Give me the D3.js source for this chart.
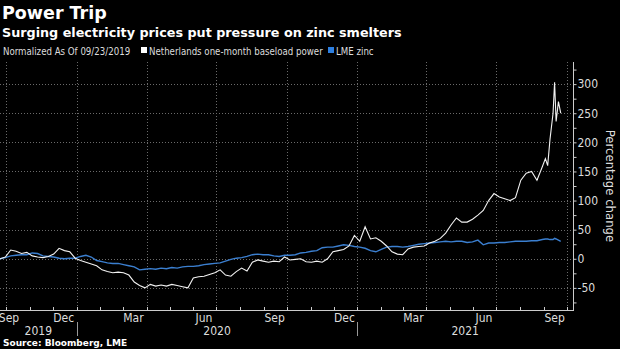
<!DOCTYPE html>
<html>
<head>
<meta charset="utf-8">
<script src="https://cdn.jsdelivr.net/npm/d3@7"></script>
<style>
  html, body { margin: 0; padding: 0; background: #000; }
  svg { display: block; }
  .cond { font-family: "DejaVu Sans Condensed", "DejaVu Sans", sans-serif; font-stretch: condensed; }
</style>
</head>
<body>
<svg id="chart" width="620" height="349"></svg>
<script>
// weekly readings, normalized to 0 on 2019-09-23
var dates = ["2019-09-23","2019-09-30","2019-10-07","2019-10-14","2019-10-21","2019-10-28","2019-11-04","2019-11-11","2019-11-18","2019-11-25",
  "2019-12-02","2019-12-09","2019-12-16","2019-12-23","2019-12-30","2020-01-06","2020-01-13","2020-01-20","2020-01-27","2020-02-03",
  "2020-02-10","2020-02-17","2020-02-24","2020-03-02","2020-03-09","2020-03-16","2020-03-23","2020-03-30","2020-04-06","2020-04-13",
  "2020-04-20","2020-04-27","2020-05-04","2020-05-11","2020-05-18","2020-05-25","2020-06-01","2020-06-08","2020-06-15","2020-06-22",
  "2020-06-29","2020-07-06","2020-07-13","2020-07-20","2020-07-27","2020-08-03","2020-08-10","2020-08-17","2020-08-24","2020-08-31",
  "2020-09-07","2020-09-14","2020-09-21","2020-09-28","2020-10-05","2020-10-12","2020-10-19","2020-10-26","2020-11-02","2020-11-09",
  "2020-11-16","2020-11-23","2020-11-30","2020-12-07","2020-12-14","2020-12-21","2020-12-28","2021-01-04","2021-01-11","2021-01-18",
  "2021-01-25","2021-02-01","2021-02-08","2021-02-15","2021-02-22","2021-03-01","2021-03-08","2021-03-15","2021-03-22","2021-03-29",
  "2021-04-05","2021-04-12","2021-04-19","2021-04-26","2021-05-03","2021-05-10","2021-05-17","2021-05-24","2021-05-31","2021-06-07",
  "2021-06-14","2021-06-21","2021-06-28","2021-07-05","2021-07-12","2021-07-19","2021-07-26","2021-08-02","2021-08-09","2021-08-16",
  "2021-08-23","2021-08-30","2021-09-03","2021-09-06","2021-09-09","2021-09-13","2021-09-15","2021-09-17","2021-09-20","2021-09-23"];

var power = [0, 3, 15, 13, 9, 11, 5, 3, 2, 4,
  8, 18, 14, 12, 1, -3, -6, -9, -12, -19,
  -22, -24, -23, -24, -28, -40, -46, -50, -44, -47,
  -45, -47, -44, -46, -48, -50, -33, -31, -30, -27,
  -24, -19, -28, -30, -22, -16, -21, -6, -2, -4,
  -6, -4, -5, 3, -2, -1, 0, -5, -6, -4,
  -6, 0, 12, 14, 16, 22, 40, 30, 55, 34,
  36, 30, 22, 12, 8, 7, 17, 20, 21, 22,
  27, 30, 35, 44, 58, 70, 63, 63, 68, 75,
  83, 100, 112, 106, 103, 100, 105, 135, 147, 150,
  135, 158, 172, 160, 205, 250, 303, 236, 270, 250];

var zinc = [0, 2, 5, 6, 7, 7, 10, 9, 5, 4,
  3, 1, 0, 1, 1, 4, 6, 3, -3, -5,
  -7, -8, -8, -10, -12, -14, -19, -18, -17, -18,
  -16, -17, -15, -16, -14, -13, -13, -12, -10, -9,
  -8, -7, -4, -1, 1, 2, 4, 7, 8, 7,
  7, 5, 4, 6, 6, 7, 10, 11, 13, 14,
  19, 20, 20, 22, 24, 23, 21, 20, 18, 14,
  12, 16, 20, 21, 21, 20, 21, 23, 25, 26,
  27, 28, 29, 30, 29, 30, 30, 28, 29, 32,
  24, 27, 27, 28, 28, 29, 30, 30, 30, 31,
  31, 33, 34, 34, 33, 33, 35, 34, 32, 30];

var yTicks = [-50, 0, 50, 100, 150, 200, 250, 300];
var years = ["2019", "2020", "2021"];

var svg = d3.select("#chart");
var parse = d3.timeParse("%Y-%m-%d");
var series = dates.map(function(d, i) {
    return { date: parse(d), power: power[i], zinc: zinc[i] };
});

var plotL = 0, plotR = 573, plotT = 62, plotB = 310;

var x = d3.scaleTime()
    .domain([parse("2019-09-23"), parse("2021-10-09")])
    .range([plotL, plotR]);
var y = d3.scaleLinear()
    .domain([-88, 338])
    .range([plotB, plotT]);

// titles
svg.append("text").attr("x", 2).attr("y", 19)
    .attr("fill", "#fff").attr("font-family", "DejaVu Sans").attr("font-weight", "bold")
    .attr("font-size", 17.5).text("Power Trip");
svg.append("text").attr("x", 2).attr("y", 37)
    .attr("fill", "#fff").attr("font-family", "DejaVu Sans").attr("font-weight", "bold")
    .attr("font-size", 12.75).text("Surging electricity prices put pressure on zinc smelters");

// legend
var legend = svg.append("g").attr("class", "cond").attr("font-size", 9.6).attr("fill", "#ddd");
legend.append("text").attr("x", 3).attr("y", 55).text("Normalized As Of 09/23/2019");
legend.append("rect").attr("x", 141).attr("y", 47).attr("width", 6).attr("height", 6).attr("fill", "#fff");
legend.append("text").attr("x", 149).attr("y", 55).text("Netherlands one-month baseload power");
legend.append("rect").attr("x", 328).attr("y", 47).attr("width", 6).attr("height", 6).attr("fill", "#2d7fe0");
legend.append("text").attr("x", 336).attr("y", 55).text("LME zinc");

// grid
var grid = svg.append("g").attr("stroke", "#6a6a6a").attr("stroke-dasharray", "1,2").attr("stroke-width", 1);
grid.selectAll("line.h").data(yTicks).enter().append("line")
    .attr("x1", plotL).attr("x2", plotR)
    .attr("y1", function(d) { return Math.round(y(d)) + 0.5; })
    .attr("y2", function(d) { return Math.round(y(d)) + 0.5; });
var quarters = d3.timeMonth.every(3).range(x.domain()[0], x.domain()[1]);
grid.selectAll("line.v").data(quarters).enter().append("line")
    .attr("x1", function(d) { return Math.round(x(d)) + 0.5; })
    .attr("x2", function(d) { return Math.round(x(d)) + 0.5; })
    .attr("y1", plotT).attr("y2", plotB);

// lines
var lineP = d3.line().x(function(d) { return x(d.date); }).y(function(d) { return y(d.power); });
var lineZ = d3.line().x(function(d) { return x(d.date); }).y(function(d) { return y(d.zinc); });
svg.append("path").datum(series).attr("d", lineZ)
    .attr("fill", "none").attr("stroke", "#3b7fd0").attr("stroke-width", 1.4);
svg.append("path").datum(series).attr("d", lineP)
    .attr("fill", "none").attr("stroke", "#f2f2f2").attr("stroke-width", 1.1);

// right axis
var yAxis = d3.axisRight(y)
    .tickValues(d3.range(-75, 326, 25))
    .tickSize(3)
    .tickFormat(function(d) { return d % 50 === 0 ? d : ""; });
var ya = svg.append("g").attr("transform", "translate(" + (plotR + 0.5) + ",0)").call(yAxis);
ya.select(".domain").attr("d", "M0," + plotT + "V" + plotB).attr("stroke", "#ccc");
ya.selectAll(".tick line").attr("stroke", "#ccc");
ya.selectAll(".tick text").attr("class", "cond").attr("fill", "#ddd").attr("font-size", 12).attr("x", 4);

svg.append("text").attr("class", "cond")
    .attr("transform", "translate(606,186) rotate(90)")
    .attr("text-anchor", "middle").attr("fill", "#ddd").attr("font-size", 13)
    .text("Percentage change");

// bottom axis
var xa = svg.append("g");
xa.append("line").attr("x1", plotL).attr("x2", plotR + 1)
    .attr("y1", plotB + 0.5).attr("y2", plotB + 0.5).attr("stroke", "#ccc");
var months = d3.timeMonth.range(x.domain()[0], x.domain()[1]);
xa.selectAll("line.m").data(months).enter().append("line")
    .attr("x1", function(d) { return Math.round(x(d)) + 0.5; })
    .attr("x2", function(d) { return Math.round(x(d)) + 0.5; })
    .attr("y1", plotB - 3).attr("y2", plotB).attr("stroke", "#ccc");

// Sep / Dec / Mar / Jun labels at mid-month
var labelMonths = d3.timeMonth.range(parse("2019-09-01"), x.domain()[1])
    .filter(function(d) { return d.getMonth() % 3 === 2; });
var fmt = d3.timeFormat("%b");
xa.selectAll("text.m").data(labelMonths).enter().append("text")
    .attr("class", "cond").attr("fill", "#ddd").attr("font-size", 12)
    .attr("text-anchor", "middle")
    .attr("x", function(d) { return Math.max(9, x(d3.timeDay.offset(d, 14))); })
    .attr("y", plotB + 12)
    .text(fmt);

var yearStarts = [x.domain()[0], parse("2020-01-01"), parse("2021-01-01"), x.domain()[1]];
xa.selectAll("line.y").data(yearStarts.slice(1, 3)).enter().append("line")
    .attr("x1", function(d) { return Math.round(x(d)) + 0.5; })
    .attr("x2", function(d) { return Math.round(x(d)) + 0.5; })
    .attr("y1", plotB + 12).attr("y2", plotB + 26).attr("stroke", "#999");
xa.selectAll("text.y").data(years).enter().append("text")
    .attr("class", "cond").attr("fill", "#ddd").attr("font-size", 12)
    .attr("text-anchor", "middle")
    .attr("x", function(d, i) { return (x(yearStarts[i]) + x(yearStarts[i + 1])) / 2; })
    .attr("y", plotB + 25)
    .text(function(d) { return d; });

svg.append("text").attr("x", 3).attr("y", 346)
    .attr("fill", "#fff").attr("font-family", "DejaVu Sans").attr("font-weight", "bold")
    .attr("font-size", 9).text("Source: Bloomberg, LME");
</script>
</body>
</html>
